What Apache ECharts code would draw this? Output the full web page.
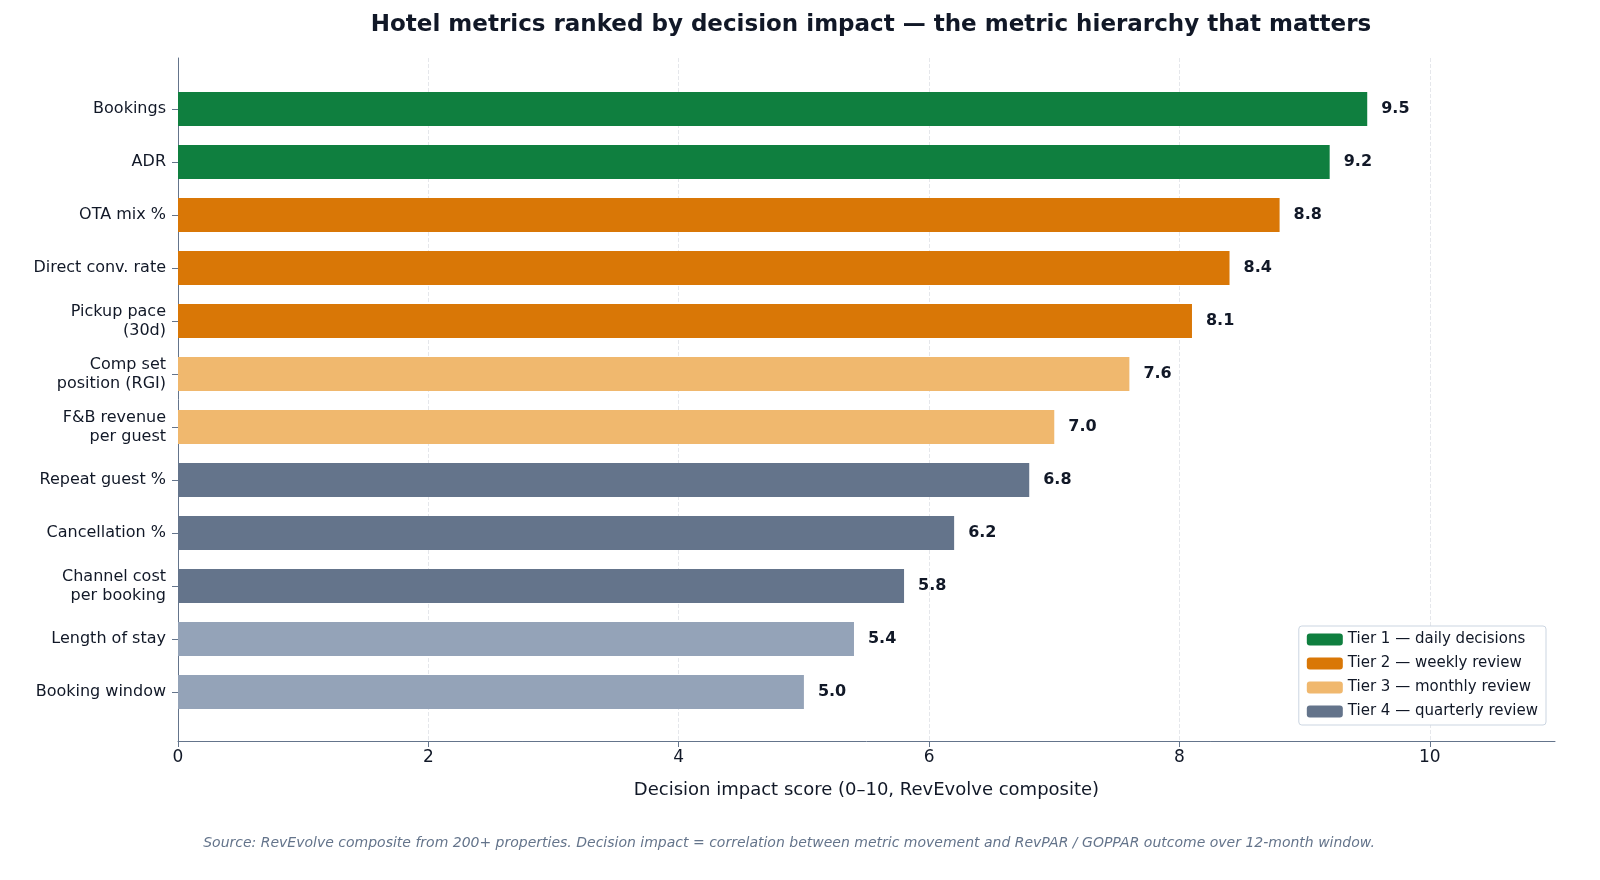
<!DOCTYPE html>
<html>
<head>
<meta charset="utf-8">
<script src="https://cdn.jsdelivr.net/npm/echarts@6/dist/echarts.min.js"></script>
<style>html,body{margin:0;background:#fff}#chart{width:1600px;height:880px}</style>
</head>
<body>
<div id="chart"></div>
<script>
var categories = ['Bookings', 'ADR', 'OTA mix %', 'Direct conv. rate', 'Pickup pace\n(30d)',
    'Comp set\nposition (RGI)', 'F&B revenue\nper guest', 'Repeat guest %', 'Cancellation %',
    'Channel cost\nper booking', 'Length of stay', 'Booking window'];
var scores = [9.5, 9.2, 8.8, 8.4, 8.1, 7.6, 7.0, 6.8, 6.2, 5.8, 5.4, 5.0];
// tier index per metric (4 = untiered, lighter slate)
var tiers = [0, 0, 1, 1, 1, 2, 2, 3, 3, 3, 4, 4];
var tierNames = ['Tier 1 — daily decisions', 'Tier 2 — weekly review',
    'Tier 3 — monthly review', 'Tier 4 — quarterly review', 'Other'];
var tierColors = ['#0f7f3f', '#d97706', '#f0b86e', '#64748b', '#94a3b8'];
var xTicks = [0, 2, 4, 6, 8, 10];

var chart = echarts.init(document.getElementById('chart'));
var series = tierNames.map(function (name, t) {
    return {
        name: name,
        type: 'bar',
        stack: 'all',
        xAxisIndex: 0,
        yAxisIndex: 0,
        barWidth: 34,
        itemStyle: {color: tierColors[t]},
        label: {
            show: true, position: 'right', distance: 14,
            fontSize: 16, fontWeight: 'bold', color: '#111827', fontFamily: 'DejaVu Sans',
            formatter: function (p) { return p.value == null ? '' : p.value.toFixed(1); }
        },
        data: scores.map(function (v, i) { return tiers[i] === t ? v : null; })
    };
});

chart.setOption({
    animation: false,
    title: [{
        text: 'Hotel metrics ranked by decision impact — the metric hierarchy that matters',
        left: 866, top: 9, textAlign: 'center',
        textStyle: {fontSize: 23, fontWeight: 'bold', color: '#111827', fontFamily: 'DejaVu Sans'}
    }, {
        text: 'Source: RevEvolve composite from 200+ properties. Decision impact = correlation between metric movement and RevPAR / GOPPAR outcome over 12-month window.',
        left: 784, top: 831, textAlign: 'center',
        textStyle: {fontSize: 14, fontStyle: 'italic', fontWeight: 'normal', color: '#64748b', fontFamily: 'DejaVu Sans'}
    }],
    legend: {
        data: tierNames.slice(0, 4),
        orient: 'vertical', right: 54, top: 626,
        itemWidth: 36, itemHeight: 12, itemGap: 9,
        padding: [6, 8, 6, 8],
        borderColor: '#cbd5e1', borderWidth: 1, borderRadius: 3,
        backgroundColor: '#fff',
        textStyle: {fontSize: 15, color: '#111827', fontFamily: 'DejaVu Sans'}
    },
    grid: [
        {left: 178, right: 45, top: 82.5, bottom: 161.5},
        {left: 178, right: 45, top: 58, bottom: 139}
    ],
    xAxis: [{
        gridIndex: 0, type: 'value', min: 0, max: 11, show: false
    }, {
        gridIndex: 1, type: 'value', min: 0, max: 11,
        axisLine: {show: true, lineStyle: {color: '#64748b'}},
        axisTick: {show: true, length: 6, customValues: xTicks, lineStyle: {color: '#64748b'}},
        axisLabel: {fontSize: 17, color: '#111827', fontFamily: 'DejaVu Sans', customValues: xTicks},
        splitLine: {show: true, lineStyle: {type: 'dashed', color: '#e5e7eb'}},
        name: 'Decision impact score (0–10, RevEvolve composite)',
        nameLocation: 'middle', nameGap: 40,
        nameTextStyle: {fontSize: 18, color: '#111827', fontFamily: 'DejaVu Sans'}
    }],
    yAxis: [{
        gridIndex: 0, type: 'category', inverse: true, data: categories,
        axisLine: {show: false},
        axisTick: {show: true, alignWithLabel: true, length: 6, lineStyle: {color: '#64748b'}},
        axisLabel: {fontSize: 16, color: '#111827', margin: 12, lineHeight: 19, fontFamily: 'DejaVu Sans'}
    }, {
        gridIndex: 1, type: 'value', min: 0, max: 1,
        axisLine: {show: true, lineStyle: {color: '#64748b'}},
        axisTick: {show: false}, axisLabel: {show: false}, splitLine: {show: false}
    }],
    series: series
});
</script>
</body>
</html>
